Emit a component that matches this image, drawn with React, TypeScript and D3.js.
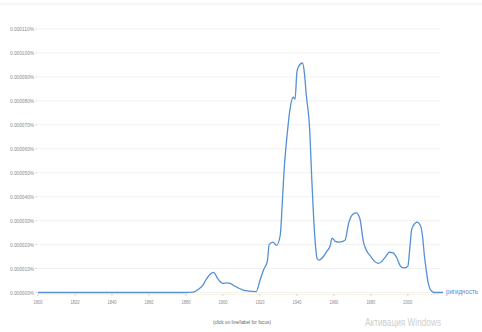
import React, { useEffect, useRef } from "react";
import * as d3 from "d3";

// ngram: "ригидность", share of corpus in %
const years = [
	1800, 1820, 1840, 1860, 1880, 1884, 1887, 1889, 1891, 1893, 1895, 1897, 1900,
	1902, 1904, 1906, 1908, 1911, 1914, 1918, 1920, 1922, 1924, 1925, 1927, 1929,
	1931, 1932, 1933, 1935, 1936, 1938, 1939, 1940, 1941, 1943, 1944, 1945, 1947,
	1948, 1949, 1950, 1951, 1952, 1954, 1956, 1958, 1959, 1961, 1963, 1966, 1968,
	1970, 1972, 1974, 1976, 1978, 1980, 1982, 1984, 1986, 1988, 1990, 1992, 1994,
	1996, 1998, 2000, 2001, 2002, 2003, 2005, 2007, 2008, 2009, 2010, 2011, 2012,
	2013, 2014, 2019,
];
// values in units of 0.00001 %
const values = [
	0, 0, 0, 0, 0, 0.02, 0.15, 0.29, 0.55, 0.75, 0.84, 0.6, 0.38, 0.4, 0.38,
	0.28, 0.2, 0.1, 0.06, 0.04, 0.5, 0.95, 1.3, 2.0, 2.1, 1.97, 2.4, 3.6, 5.0,
	6.8, 7.5, 8.15, 8.07, 9.2, 9.45, 9.58, 9.2, 8.3, 6.68, 4.8, 3.2, 2.0, 1.4,
	1.35, 1.47, 1.7, 1.95, 2.27, 2.12, 2.1, 2.18, 2.9, 3.25, 3.32, 3.1, 2.1, 1.7,
	1.5, 1.3, 1.22, 1.3, 1.5, 1.68, 1.65, 1.45, 1.1, 1.03, 1.1, 1.8, 2.6, 2.8,
	2.94, 2.75, 2.3, 1.5, 0.9, 0.4, 0.15, 0.05, 0, 0,
];
const yTicks = [0, 1, 2, 3, 4, 5, 6, 7, 8, 9, 10, 11];
const xTicks = [1800, 1820, 1840, 1860, 1880, 1900, 1920, 1940, 1960, 1980, 2000];
const seriesName = "ригидность";

const W = 482;
const H = 332;
const BLUE = "#5590d4";

export default function App() {
	const svgRef = useRef<SVGSVGElement | any>();

	useEffect(() => {
		const svg = d3.select(svgRef.current);
		svg.selectAll("*").remove();

		const x = d3.scaleLinear().domain([1800, 2019]).range([38, 443]);
		const y = d3.scaleLinear().domain([0, 11]).range([292.5, 29]);

		svg
			.append("line")
			.attr("x1", 0)
			.attr("x2", W)
			.attr("y1", 4)
			.attr("y2", 4)
			.attr("stroke", "#ececec");

		// grid + y labels
		const gy = svg.append("g");
		yTicks.forEach((t) => {
			gy.append("line")
				.attr("x1", 39)
				.attr("x2", 440)
				.attr("y1", y(t))
				.attr("y2", y(t))
				.attr("stroke", "#f1f1f1");
			gy.append("text")
				.attr("x", 10)
				.attr("y", y(t) + 2)
				.attr("textLength", 24)
				.attr("lengthAdjust", "spacingAndGlyphs")
				.attr("font-size", 6)
				.attr("fill", "#8c8c8c")
				.text((t / 100000).toFixed(6) + "%");
			gy.append("line")
				.attr("x1", 35.5)
				.attr("x2", 37)
				.attr("y1", y(t))
				.attr("y2", y(t))
				.attr("stroke", "#aaa")
				.attr("stroke-width", 0.6);
		});

		// x axis
		const gx = svg.append("g");
		gx.append("line")
			.attr("x1", 38)
			.attr("x2", 440)
			.attr("y1", 294.5)
			.attr("y2", 294.5)
			.attr("stroke", "#faf4e4");
		xTicks.forEach((t) => {
			gx.append("line")
				.attr("x1", x(t))
				.attr("x2", x(t))
				.attr("y1", 294)
				.attr("y2", 296)
				.attr("stroke", "#bbb")
				.attr("stroke-width", 0.6);
			gx.append("text")
				.attr("x", x(t))
				.attr("y", 304)
				.attr("text-anchor", "middle")
				.attr("textLength", 9)
				.attr("lengthAdjust", "spacingAndGlyphs")
				.attr("font-size", 6)
				.attr("fill", "#8c8c8c")
				.text(t);
		});

		const data = years.map((yr, i) => ({ year: yr, value: values[i] }));
		const line = d3
			.line<any>()
			.x((d) => x(d.year))
			.y((d) => y(d.value))
			.curve(d3.curveMonotoneX);

		svg
			.append("path")
			.datum(data)
			.attr("d", line)
			.attr("fill", "none")
			.attr("stroke", BLUE)
			.attr("stroke-width", 1.3);

		svg
			.append("text")
			.attr("x", 446)
			.attr("y", 294)
			.attr("textLength", 32)
			.attr("lengthAdjust", "spacingAndGlyphs")
			.attr("font-size", 7)
			.attr("fill", BLUE)
			.text(seriesName);

		svg
			.append("text")
			.attr("x", 242)
			.attr("y", 324)
			.attr("text-anchor", "middle")
			.attr("textLength", 58)
			.attr("lengthAdjust", "spacingAndGlyphs")
			.attr("font-size", 6)
			.attr("fill", "#666")
			.text("(click on line/label for focus)");

		svg
			.append("text")
			.attr("x", 365)
			.attr("y", 326)
			.attr("textLength", 76)
			.attr("lengthAdjust", "spacingAndGlyphs")
			.attr("font-size", 11)
			.attr("fill", "#cfcfcf")
			.text("Активация Windows");
	}, []);

	return (
		<svg
			ref={svgRef}
			width={W}
			height={H}
			style={{ position: "absolute", left: 0, top: 0, fontFamily: "'Liberation Sans', Arial, sans-serif", background: "#fff" }}
		/>
	);
}
